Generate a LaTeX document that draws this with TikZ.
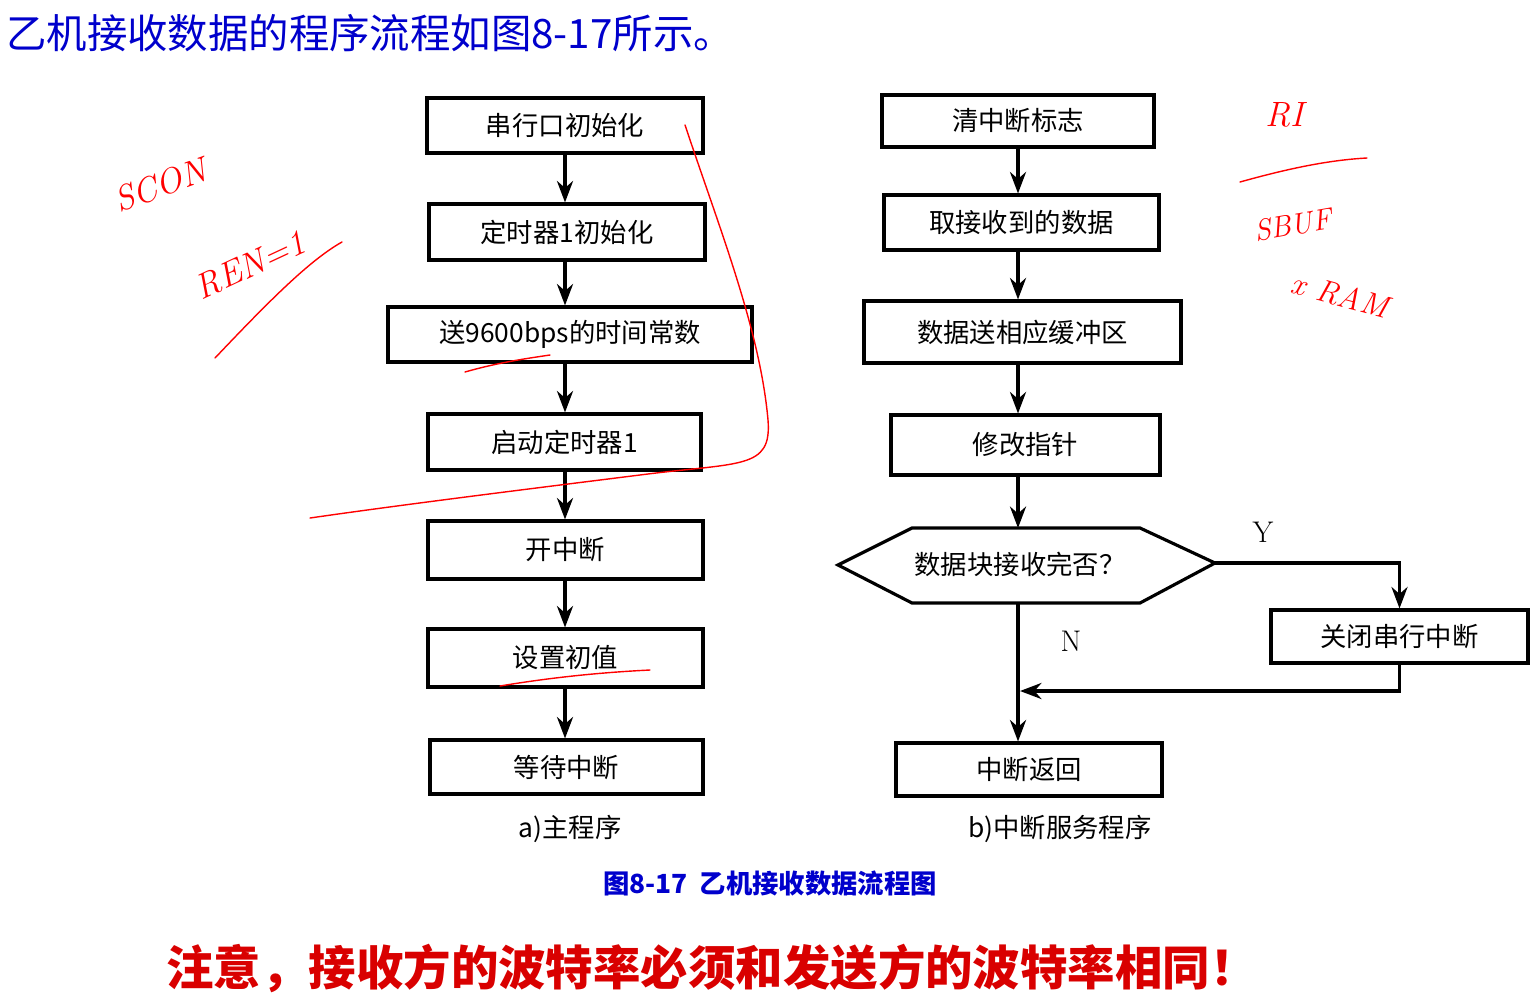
\documentclass[tikz,border=0pt]{standalone}
\usepackage{fontspec}
\newfontfamily\cjk{Noto Sans CJK SC}
\usetikzlibrary{arrows.meta}
\tikzset{
  box/.style={draw, line width=1.8pt, inner sep=0pt, font=\cjk\fontsize{15}{17}\selectfont},
  flow/.style={line width=1.8pt, -{Stealth[scale=1.1]}},
  note/.style={red, line width=0.8pt, line cap=round},
}
\begin{document}
\begin{tikzpicture}[x=0.02cm, y=-0.02cm]
  \useasboundingbox (0,0) rectangle (1540,1004);
  \node[anchor=west, blue!80!black, font=\cjk\fontsize{23}{26}\selectfont] (title) at (0,33) {乙机接收数据的程序流程如图8-17所示。};
  % left column
  \foreach \n/\xa/\ya/\xb/\yb/\t in {
      a1/427/98/703/153/串行口初始化,
      a2/429/204/705/260/定时器1初始化,
      a3/388/307/752/362/送9600bps的时间常数,
      a4/428/414/701/470/启动定时器1,
      a5/428/521/703/579/开中断,
      a6/428/629/703/687/设置初值,
      a7/430/740/703/794/等待中断,
      b1/882/95/1154/147/清中断标志,
      b2/884/195/1159/250/取接收到的数据,
      b3/864/301/1181/363/数据送相应缓冲区,
      b4/891/415/1160/475/修改指针,
      b6/896/743/1162/796/中断返回,
      b7/1271/610/1528/663/关闭串行中断}
    {\node[box, minimum width={(\xb-\xa)*0.02cm}, minimum height={(\yb-\ya)*0.02cm}] (\n) at ({(\xa+\xb)/2},{(\ya+\yb)/2}) {\t};}
  \foreach \u/\v in {a1/a2, a2/a3, a3/a4, a4/a5, a5/a6, a6/a7}
    {\draw[flow] (\u.south -| a1.south) -- (\v.north -| a1.south);}
  \foreach \u/\v in {b1/b2, b2/b3, b3/b4}
    {\draw[flow] (\u.south -| b1.south) -- (\v.north -| b1.south);}
  % decision
  \coordinate (hl) at (838,565);
  \coordinate (hr) at (1215,563);
  \draw[line width=1.8pt] (hl) -- (912,528) -- (1140,528) -- (hr) -- (1140,603) -- (912,603) -- cycle;
  \node[font=\cjk\fontsize{15}{17}\selectfont] (b5) at (1020,564) {数据块接收完否？};
  \draw[flow] (b4.south -| b1.south) -- (b1.south |- 0,528);
  \coordinate (nb) at (1018,603);
  \draw[flow] (nb) -- (b6.north -| nb);
  \draw[flow] (hr) -| (b7.north);
  \coordinate (join) at (1020,691);
  \draw[flow] (b7.south) |- (join);
  \node[font=\fontsize{17}{19}\selectfont] (yes) at (1263,532) {Y};
  \node[font=\fontsize{17}{19}\selectfont] (no) at (1071,641) {N};
  % captions
  \node[font=\cjk\fontsize{15}{17}\selectfont] (capa) at (570,829) {a)主程序};
  \node[font=\cjk\fontsize{15}{17}\selectfont] (capb) at (1060,829) {b)中断服务程序};
  \node[blue!80!black, font=\cjk\bfseries\fontsize{15}{17}\selectfont] (fig) at (770,884) {图8-17\ \ 乙机接收数据流程图};
  \node[red!85!black, font=\cjk\bfseries\fontsize{27}{30}\selectfont] (warn) at (712,968) {注意，接收方的波特率必须和发送方的波特率相同！};
  % handwritten notes
  \node[red, rotate=20, inner sep=0pt, font=\itshape\fontsize{20}{22}\selectfont] (scon) at (160,185) {SCON};
  \node[red, rotate=25, inner sep=0pt, font=\itshape\fontsize{20}{22}\selectfont] (ren) at (250,265) {REN=1};
  \draw[note] (215,358) .. controls (270,300) and (310,260) .. (342,242);
  \node[red, font=\itshape\fontsize{20}{22}\selectfont] (ri) at (1285,115) {RI};
  \draw[note] (1240,182) .. controls (1290,168) and (1330,160) .. (1367,158);
  \node[red, rotate=10, font=\itshape\fontsize{17}{20}\selectfont] (sbuf) at (1293,225) {SBUF};
  \node[red, rotate=-15, font=\itshape\fontsize{18}{20}\selectfont] (xram) at (1340,295) {x RAM};
  \draw[note] (685,125) .. controls (720,230) and (760,330) .. (768,420)
     .. controls (772,470) and (740,462) .. (640,475)
     .. controls (520,490) and (400,505) .. (310,518);
  \draw[note] (465,372) .. controls (500,362) and (530,358) .. (550,355);
  \draw[note] (500,686) .. controls (560,676) and (610,672) .. (650,670);
\end{tikzpicture}
\end{document}
